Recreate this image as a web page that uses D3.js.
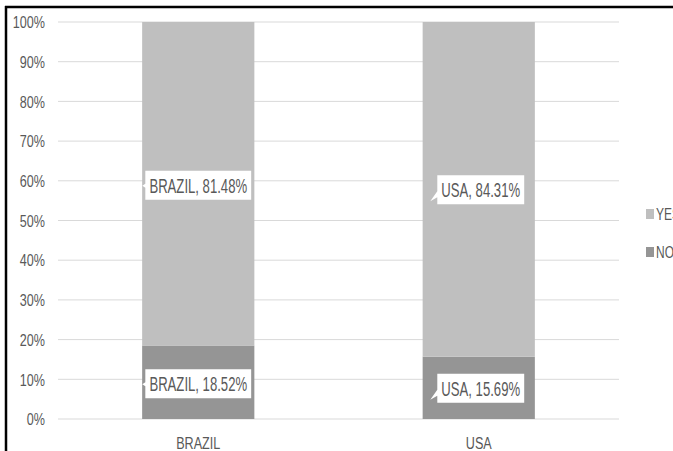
<!DOCTYPE html>
<html>
<head>
<meta charset="utf-8">
<script src="https://cdn.jsdelivr.net/npm/d3@7"></script>
<style>
  html, body { margin: 0; padding: 0; background: #fff; overflow: hidden; }
  svg { display: block; }
  text { font-family: "Liberation Sans", Arial, sans-serif; fill: #595959; }
</style>
</head>
<body>
<script>
// Share of answers per country (percent)
const categories = ["BRAZIL", "USA"];
const seriesNames = ["NO", "YES"];
const noValues = [18.52, 15.69];
const yesValues = [81.48, 84.31];
const yTicks = [0, 10, 20, 30, 40, 50, 60, 70, 80, 90, 100];

const W = 673, H = 451;
const colors = { NO: "#959595", YES: "#bfbfbf" };

const svg = d3.select("body").append("svg").attr("width", W).attr("height", H);

const x = d3.scaleBand().domain(categories).range([58, 619]).paddingInner(0.6).paddingOuter(0.3);
const y = d3.scaleLinear().domain([0, 100]).range([419, 22]);

// narrow, tall lettering: scale a text about its anchor point
function squash(sel, sx, sy) {
  sel.each(function () {
    const t = d3.select(this);
    const ax = +t.attr("x") || 0, ay = +t.attr("y") || 0;
    t.attr("transform", `translate(${ax},${ay}) scale(${sx},${sy}) translate(${-ax},${-ay})`);
  });
}

// gridlines
svg.append("g").selectAll("line").data(yTicks).join("line")
  .attr("x1", 58).attr("x2", 619)
  .attr("y1", d => y(d)).attr("y2", d => y(d))
  .attr("stroke", "#d9d9d9").attr("stroke-width", 1);

// y axis labels
const yAxis = d3.axisLeft(y).tickValues(yTicks).tickFormat(d => d + "%").tickSize(0).tickPadding(0);
const gy = svg.append("g").attr("transform", "translate(45,0)").call(yAxis);
gy.select(".domain").remove();
gy.selectAll("text").attr("font-size", 15).attr("font-family", null)
  .style("fill", "#595959").attr("x", 0).attr("dy", "0.33em");
squash(gy.selectAll("text"), 0.84, 1.15);

// stacked data
const rows = categories.map((c, i) => ({ cat: c, NO: noValues[i], YES: yesValues[i] }));
const stacked = d3.stack().keys(seriesNames)(rows);

svg.append("g").selectAll("g").data(stacked).join("g")
  .attr("fill", d => colors[d.key])
  .selectAll("rect").data(d => d).join("rect")
  .attr("x", d => x(d.data.cat))
  .attr("width", x.bandwidth())
  .attr("y", d => y(d[1]))
  .attr("height", d => y(d[0]) - y(d[1]));

// x axis labels
const xAxis = d3.axisBottom(x).tickSize(0).tickPadding(0);
const gx = svg.append("g").attr("transform", "translate(0,449)").call(xAxis);
gx.select(".domain").remove();
gx.selectAll("text").attr("font-size", 15).attr("font-family", null)
  .style("fill", "#595959").attr("y", 0).attr("dy", 0);
squash(gx.selectAll("text"), 0.84, 1.15);

// data label callouts
const labels = [];
stacked.forEach(s => s.forEach(d => {
  labels.push({ cat: d.data.cat, v: d[1] - d[0], mid: (d[0] + d[1]) / 2 });
}));
const lg = svg.append("g");
labels.forEach(l => {
  const cx = x(l.cat) + x.bandwidth() / 2;
  const isUSA = l.cat === "USA";
  const cy = y(l.mid) + (isUSA ? 1 : 2);
  const txt = l.cat + ", " + l.v.toFixed(2) + "%";
  const tx = cx + (isUSA ? 2 : 0), ty = cy + 7;
  const t = lg.append("text").attr("font-size", 16).attr("text-anchor", "middle")
    .attr("x", tx).attr("y", ty).text(txt);
  squash(t, 0.82, 1.22);
  const bb = t.node().getBBox();
  const w = bb.width * 0.82;
  const x0 = tx - w / 2 - 4, x1 = tx + w / 2 + 4, y0 = cy - 15, y1 = cy + 14;
  let p;
  if (isUSA) {
    // pointer from the lower left corner
    p = `M${x0},${y0} L${x1},${y0} L${x1},${y1} L${x0},${y1} L${x0},${y1 - 7} L${x0 - 7},${y1 - 3} L${x0},${y1 - 13} Z`;
  } else {
    p = `M${x0},${y0} L${x1},${y0} L${x1},${y1} L${x0},${y1} L${x0},${cy + 2} L${x0 - 3},${cy} L${x0},${cy - 2} Z`;
  }
  lg.insert("path", "text").attr("d", p).attr("fill", "#fff");
});

// legend
const leg = svg.append("g");
const legendItems = [{ k: "YES", yy: 214 }, { k: "NO", yy: 252 }];
legendItems.forEach(it => {
  leg.append("rect").attr("x", 646).attr("y", it.yy - 5).attr("width", 8).attr("height", 10).attr("fill", colors[it.k]);
  const t = leg.append("text").attr("x", 656).attr("y", it.yy + 6).attr("font-size", 15).text(it.k);
  squash(t, 0.8, 1.15);
});

// outer frame edges
svg.append("line").attr("x1", 6).attr("x2", 6).attr("y1", 6).attr("y2", H).attr("stroke", "#000").attr("stroke-width", 2.5);
svg.append("line").attr("x1", 5).attr("x2", W).attr("y1", 7).attr("y2", 7).attr("stroke", "#000").attr("stroke-width", 2.5);
</script>
</body>
</html>
